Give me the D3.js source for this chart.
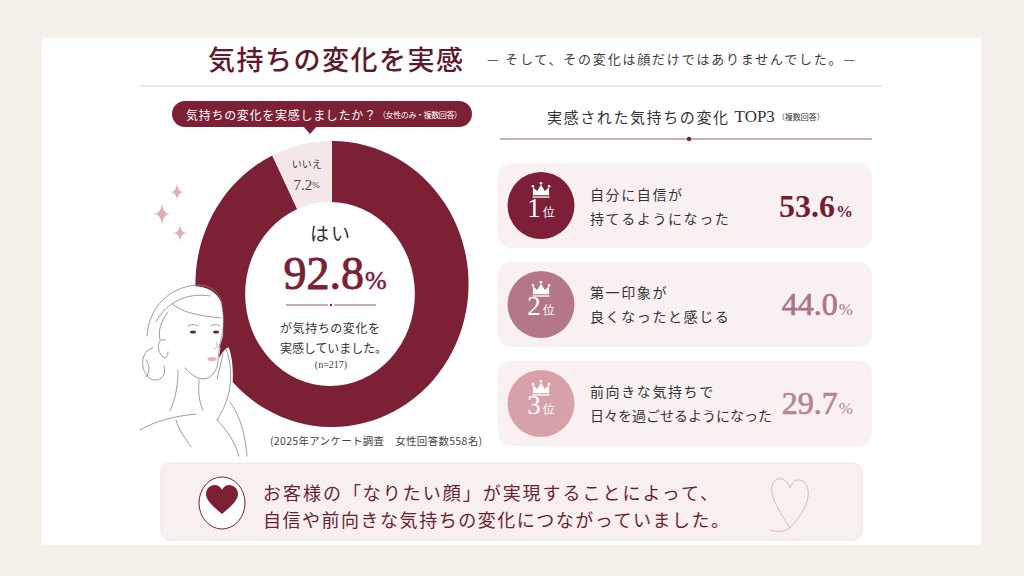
<!DOCTYPE html>
<html>
<head>
<meta charset="utf-8">
<script src="https://cdn.jsdelivr.net/npm/d3@7"></script>
<style>
  html, body { margin: 0; padding: 0; background: #f5f1ea; }
  svg { display: block; }
</style>
</head>
<body>
<svg id="chart" width="1024" height="576"></svg>
<script>
// data
const donutLabels = ['はい', 'いいえ']
const donutValues = [92.8, 7.2]
const sampleNote = '(n=217)'
const surveyNote = '(2025年アンケート調査　女性回答数558名)'

const rankNames = ['1', '2', '3']
const rankLines = [
	['自分に自信が', '持てるようになった'],
	['第一印象が', '良くなったと感じる'],
	['前向きな気持ちで', '日々を過ごせるようになった']
]
const rankValues = [53.6, 44.0, 29.7]

const titleText = '気持ちの変化を実感'
const subtitleText = '— そして、その変化は顔だけではありませんでした。—'
const bannerLines = ['お客様の「なりたい顔」が実現することによって、', '自信や前向きな気持ちの変化につながっていました。']

const JP = '"Noto Sans CJK JP", "Noto Sans", sans-serif'
const SERIF = '"Liberation Serif", "DejaVu Serif", serif'
const wine = '#7b2035'

const svg = d3.select('#chart')

// panels
svg.append('rect').attr('x', 0).attr('y', 0).attr('width', 1024).attr('height', 576).attr('fill', '#f5f1ea')
svg.append('rect').attr('x', 42).attr('y', 38).attr('width', 939).attr('height', 507).attr('fill', '#ffffff')

// title
svg.append('text')
	.attr('x', 208).attr('y', 58)
	.attr('dominant-baseline', 'central')
	.attr('font-family', JP).attr('font-size', 27).attr('font-weight', 500)
	.attr('fill', '#5c1a2a')
	.attr('textLength', 255).attr('lengthAdjust', 'spacing')
	.text(titleText)
svg.append('text')
	.attr('x', 487).attr('y', 58)
	.attr('dominant-baseline', 'central')
	.attr('font-family', JP).attr('font-size', 13)
	.attr('fill', '#3d3d3d')
	.attr('textLength', 368).attr('lengthAdjust', 'spacing')
	.text(subtitleText)
svg.append('line')
	.attr('x1', 140).attr('x2', 882).attr('y1', 86).attr('y2', 86)
	.attr('stroke', '#e2cfd2').attr('stroke-width', 1.2)

// question bubble
const bubble = svg.append('g')
bubble.append('rect')
	.attr('x', 172).attr('y', 101).attr('width', 300).attr('height', 26).attr('rx', 13)
	.attr('fill', wine)
bubble.append('path')
	.attr('d', d3.line()([[303, 126], [317, 126], [310, 134]]))
	.attr('fill', wine)
bubble.append('text')
	.attr('x', 186).attr('y', 114)
	.attr('dominant-baseline', 'central')
	.attr('font-family', JP).attr('font-size', 12).attr('fill', '#fff')
	.attr('textLength', 190).attr('lengthAdjust', 'spacing')
	.text('気持ちの変化を実感しましたか？')
bubble.append('text')
	.attr('x', 378).attr('y', 114.5)
	.attr('dominant-baseline', 'central')
	.attr('font-family', JP).attr('font-size', 8).attr('fill', '#fff')
	.attr('textLength', 84).attr('lengthAdjust', 'spacing')
	.text('（女性のみ・複数回答）')

// donut
const cx = 332, cy = 284, R = 143, sx = 0.955
const pie = d3.pie().sort(null).startAngle(0).endAngle(2 * Math.PI)
const arcs = pie(donutValues)
const arc = d3.arc().innerRadius(0).outerRadius(R)
const labelArc = d3.arc().innerRadius(118).outerRadius(118)
const sliceColor = d3.scaleOrdinal().domain(donutLabels).range([wine, '#f3e7e7'])

const dg = svg.append('g').attr('transform', `translate(${cx},${cy}) scale(${sx},1)`)
dg.selectAll('path.slice')
	.data(arcs)
	.join('path')
	.attr('class', 'slice')
	.attr('d', arc)
	.attr('fill', (d, i) => sliceColor(donutLabels[i]))
// inner hole (slightly low, as in the original artwork)
svg.append('ellipse')
	.attr('cx', cx - 2).attr('cy', cy + 10)
	.attr('rx', 92 * sx - 3).attr('ry', 92)
	.attr('fill', '#fff')

// small slice label
const noC = labelArc.centroid(arcs[1])
const noX = cx + noC[0] * sx, noY = cy + noC[1] + 5
svg.append('text')
	.attr('x', noX).attr('y', noY - 11)
	.attr('text-anchor', 'middle').attr('dominant-baseline', 'central')
	.attr('font-family', JP).attr('font-size', 10).attr('fill', '#444')
	.text(donutLabels[1])
const noT = svg.append('text')
	.attr('x', noX).attr('y', noY + 11)
	.attr('text-anchor', 'middle').attr('dominant-baseline', 'central')
	.attr('font-family', SERIF).attr('fill', '#444')
noT.append('tspan').attr('font-size', 15).text(donutValues[1].toFixed(1))
noT.append('tspan').attr('font-size', 9).text('%')

// center text
svg.append('text')
	.attr('x', 331).attr('y', 232)
	.attr('text-anchor', 'middle').attr('dominant-baseline', 'central')
	.attr('font-family', JP).attr('font-size', 19).attr('fill', '#333')
	.attr('letter-spacing', 2)
	.text(donutLabels[0])
const yesT = svg.append('text')
	.attr('x', 335).attr('y', 289)
	.attr('text-anchor', 'middle')
	.attr('font-family', SERIF).attr('fill', wine)
	.attr('stroke', wine).attr('stroke-width', 0.9)
yesT.append('tspan').attr('font-size', 46).text(donutValues[0].toFixed(1))
yesT.append('tspan').attr('font-size', 26).attr('dx', 1).attr('stroke-width', 0.5).text('%')

svg.append('line').attr('x1', 286).attr('x2', 376).attr('y1', 305).attr('y2', 305)
	.attr('stroke', '#8a5a66').attr('stroke-width', 1)
svg.append('circle').attr('cx', 331).attr('cy', 305).attr('r', 2.2).attr('fill', wine)
	.attr('stroke', '#fff').attr('stroke-width', 2)

svg.append('text')
	.attr('x', 280).attr('y', 327)
	.attr('dominant-baseline', 'central')
	.attr('font-family', JP).attr('font-size', 12).attr('fill', '#333')
	.attr('textLength', 100).attr('lengthAdjust', 'spacing')
	.text('が気持ちの変化を')
svg.append('text')
	.attr('x', 280).attr('y', 347)
	.attr('dominant-baseline', 'central')
	.attr('font-family', JP).attr('font-size', 12).attr('fill', '#333')
	.attr('textLength', 107).attr('lengthAdjust', 'spacing')
	.text('実感していました。')
svg.append('text')
	.attr('x', 331).attr('y', 364)
	.attr('text-anchor', 'middle').attr('dominant-baseline', 'central')
	.attr('font-family', SERIF).attr('font-size', 10).attr('fill', '#444')
	.text(sampleNote)

svg.append('text')
	.attr('x', 270).attr('y', 440)
	.attr('dominant-baseline', 'central')
	.attr('font-family', JP).attr('font-size', 10.5).attr('fill', '#444')
	.attr('textLength', 212).attr('lengthAdjust', 'spacing')
	.text(surveyNote)

// sparkles
const sparkle = (x, y, r) => {
	const p = d3.path()
	p.moveTo(x, y - r)
	p.quadraticCurveTo(x, y, x + r * 0.7, y)
	p.quadraticCurveTo(x, y, x, y + r)
	p.quadraticCurveTo(x, y, x - r * 0.7, y)
	p.quadraticCurveTo(x, y, x, y - r)
	return p.toString()
}
svg.selectAll('path.sparkle')
	.data([[177, 192, 10], [162, 214, 13], [180, 233, 10]])
	.join('path')
	.attr('class', 'sparkle')
	.attr('d', d => sparkle(d[0], d[1], d[2]))
	.attr('fill', '#dcaeb2')

// woman line drawing
const woman = svg.append('g')
woman.append('path')
	.attr('d', 'M140,456 L140,352 C138,330 150,300 175,290 C195,282 215,287 221,302 C224,312 223,322 223,330 C224,336 221,342 220,346 C221,350 219,354 219,358 C223,352 227,346 229,348 C234,362 234,385 230,402 C239,413 247,432 250,456 Z')
	.attr('fill', '#fff')
const strokes = [
	'M147,336 C149,306 170,288 195,285 C210,284 220,292 222,304',
	'M156,322 C166,302 188,292 210,296',
	'M172,304 C184,314 204,316 221,318',
	'M168,312 C160,322 158,332 160,340',
	'M222,306 C224,318 224,328 221,340 L219,347 C220,351 218,355 218,360 C218,368 214,375 208,378 C200,381 192,376 185,368',
	'M165,340 C157,337 156,351 163,357 C166,359 168,356 168,352',
	'M153,348 C140,350 139,372 151,379 C160,383 167,375 164,366',
	'M146,360 C150,366 150,372 146,377',
	'M178,370 C178,384 176,398 170,411',
	'M199,380 C198,392 199,402 203,410',
	'M140,430 C155,421 175,416 196,414',
	'M226,349 C231,361 232,378 229,392 C226,404 222,412 217,420',
	'M223,354 C221,363 219,371 217,379',
	'M217,420 C227,430 235,442 239,456',
	'M230,402 C238,413 245,430 247,456',
	'M176,420 C179,431 186,439 191,447',
	'M188,326 C191,324 195,324 198,326',
	'M211,326 C214,324 217,324 220,326'
]
woman.selectAll('path.line')
	.data(strokes)
	.join('path')
	.attr('class', 'line')
	.attr('d', d => d)
	.attr('fill', 'none')
	.attr('stroke', '#8c7e80')
	.attr('stroke-width', 0.8)
	.attr('stroke-linecap', 'round')
woman.selectAll('ellipse.eye')
	.data([[193, 332], [216, 332]])
	.join('ellipse')
	.attr('class', 'eye')
	.attr('cx', d => d[0]).attr('cy', d => d[1])
	.attr('rx', 3).attr('ry', 1.6)
	.attr('fill', '#5a2a30')
woman.append('ellipse').attr('cx', 212).attr('cy', 359).attr('rx', 4.5).attr('ry', 2)
	.attr('fill', '#e6b1b1')
woman.append('path').attr('d', 'M216,342 C218,346 217,348 214,349')
	.attr('fill', 'none').attr('stroke', '#a09092').attr('stroke-width', 0.7)

// right header
const hdr = svg.append('text')
	.attr('x', 547).attr('y', 116)
	.attr('dominant-baseline', 'central')
	.attr('font-family', JP).attr('fill', '#333')
hdr.append('tspan').attr('font-size', 15).attr('letter-spacing', 1.6).text('実感された気持ちの変化 ')
hdr.append('tspan').attr('font-family', SERIF).attr('font-size', 17).text('TOP3')
hdr.append('tspan').attr('font-size', 8).attr('dx', 2).text('（複数回答）')
svg.append('line').attr('x1', 500).attr('x2', 872).attr('y1', 139).attr('y2', 139)
	.attr('stroke', '#9a6270').attr('stroke-width', 1)
svg.append('circle').attr('cx', 689).attr('cy', 139).attr('r', 2.2).attr('fill', wine)

// ranking cards
const y = d3.scaleBand().domain(d3.range(rankValues.length)).range([163, 446]).paddingInner(0.14)
const badgeColor = d3.scaleOrdinal().domain(rankNames).range(['#7d1f36', '#b47786', '#d8a1aa'])
const valueColor = d3.scaleOrdinal().domain(rankNames).range(['#761b32', '#aa7583', '#b7838f'])

const cards = svg.selectAll('g.card')
	.data(rankValues)
	.join('g')
	.attr('class', 'card')
	.attr('transform', (d, i) => `translate(498,${y(i)})`)

cards.append('rect')
	.attr('width', 374).attr('height', y.bandwidth()).attr('rx', 13)
	.attr('fill', '#f9f1f1')

const bh = y.bandwidth() / 2
cards.append('circle')
	.attr('cx', 43).attr('cy', bh).attr('r', 33.5)
	.attr('fill', (d, i) => badgeColor(rankNames[i]))

// crown
const crown = 'M-8.5,6 L-8.5,-2.5 L-4,1.5 L0,-5 L4,1.5 L8.5,-2.5 L8.5,6 Z'
cards.append('path')
	.attr('d', crown)
	.attr('transform', `translate(43,${bh - 16}) scale(0.95)`)
	.attr('fill', '#fff')
cards.append('line')
	.attr('x1', 34.5).attr('x2', 51.5).attr('y1', bh - 8.5).attr('y2', bh - 8.5)
	.attr('stroke', '#fff').attr('stroke-width', 1.3)
cards.selectAll('circle.jewel')
	.data([[-8.5, -3.5], [0, -6.5], [8.5, -3.5]])
	.join('circle')
	.attr('class', 'jewel')
	.attr('cx', d => 43 + d[0] * 0.95).attr('cy', d => bh - 16 + d[1] * 0.95)
	.attr('r', 1.3).attr('fill', '#fff')

const rk = cards.append('text')
	.attr('x', 43).attr('y', bh + 11)
	.attr('text-anchor', 'middle')
	.attr('fill', '#fff')
rk.append('tspan').attr('font-family', SERIF).attr('font-size', 27).text((d, i) => rankNames[i])
rk.append('tspan').attr('font-family', JP).attr('font-size', 12).attr('dx', 2).text('位')

cards.each(function (d, i) {
	const g = d3.select(this)
	rankLines[i].forEach((line, j) => {
		g.append('text')
			.attr('x', 92).attr('y', bh - 12 + j * 24)
			.attr('dominant-baseline', 'central')
			.attr('font-family', JP).attr('font-size', 14).attr('fill', '#333')
			.attr('letter-spacing', line.length > 10 ? 0 : 1.6)
			.text(line)
	})
})

const pct = cards.append('text')
	.attr('x', 355).attr('y', bh + 11)
	.attr('text-anchor', 'end')
	.attr('font-family', SERIF)
	.attr('font-weight', (d, i) => i === 0 ? 700 : 400)
	.attr('fill', (d, i) => valueColor(rankNames[i]))
	.attr('stroke', (d, i) => valueColor(rankNames[i]))
	.attr('stroke-width', (d, i) => i === 0 ? 0 : 0.7)
pct.append('tspan').attr('font-size', 32).text(d => d.toFixed(1))
pct.append('tspan').attr('font-size', 17).attr('dx', 1).attr('stroke-width', 0).text('%')

// bottom banner
svg.append('rect')
	.attr('x', 161).attr('y', 463).attr('width', 701).attr('height', 77).attr('rx', 9)
	.attr('fill', '#f8efef').attr('stroke', '#efe2e3').attr('stroke-width', 1)
svg.append('ellipse')
	.attr('cx', 222).attr('cy', 503).attr('rx', 23).attr('ry', 26)
	.attr('fill', '#fff').attr('stroke', wine).attr('stroke-width', 1)
svg.append('path')
	.attr('d', 'M222,514 C214,507 206,501 206,494 C206,488 211,485 215,485 C218,485 221,487 222,490 C223,487 226,485 229,485 C233,485 238,488 238,494 C238,501 230,507 222,514 Z')
	.attr('fill', wine)
bannerLines.forEach((line, i) => {
	svg.append('text')
		.attr('x', 263).attr('y', 492 + i * 27)
		.attr('dominant-baseline', 'central')
		.attr('font-family', JP).attr('font-size', 18).attr('fill', '#6a1f31')
		.attr('textLength', i === 0 ? 455 : 466).attr('lengthAdjust', 'spacing')
		.text(line)
})
// outline heart doodle
svg.append('path')
	.attr('d', 'M790,528 C780,512 770,498 772,486 C774,476 786,476 790,488 C794,476 806,478 808,490 C810,504 800,516 790,528 C784,532 776,532 770,530')
	.attr('fill', 'none').attr('stroke', '#dcb5bb').attr('stroke-width', 1)
</script>
</body>
</html>
